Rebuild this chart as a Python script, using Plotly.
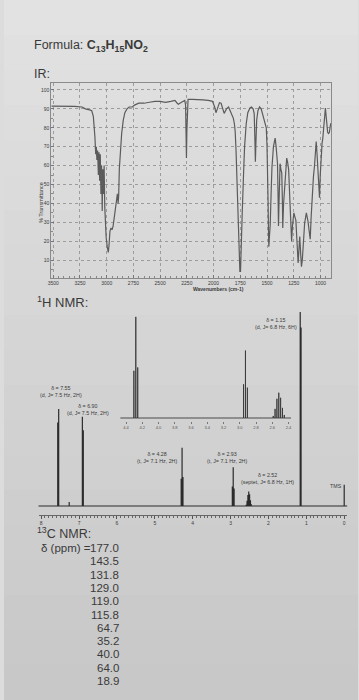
import plotly.graph_objects as go

W, H = 359, 700

# ---------------- IR data ----------------
ir_wavenumber = [3518, 3400, 3300, 3230, 3200, 3160, 3140, 3125, 3118, 3110, 3103, 3097, 3092, 3085,
                 3078, 3072, 3066, 3060, 3054, 3048, 3042, 3036, 3030, 3024, 3018, 3012, 3005, 2995,
                 2985, 2978, 2970, 2960, 2950, 2940, 2930, 2920, 2910, 2900, 2893, 2888, 2882, 2872,
                 2860, 2845, 2830, 2810, 2790, 2760, 2740, 2700, 2650, 2600, 2550, 2500, 2450, 2400,
                 2362, 2340, 2330, 2300, 2285, 2270, 2262, 2257, 2254, 2250, 2245, 2239, 2200, 2150,
                 2100, 2050, 2010, 1990, 1978, 1965, 1945, 1930, 1915, 1901, 1880, 1860, 1845, 1830,
                 1815, 1805, 1798, 1790, 1780, 1770, 1760, 1754, 1748, 1740, 1732, 1720, 1710, 1695,
                 1680, 1660, 1645, 1630, 1620, 1614, 1609, 1604, 1597, 1585, 1570, 1555, 1540, 1520,
                 1507, 1500, 1495, 1490, 1485, 1483, 1478, 1470, 1462, 1454, 1440, 1430, 1424, 1415,
                 1402, 1397, 1393, 1388, 1382, 1378, 1370, 1362, 1356, 1353, 1345, 1330, 1316, 1308,
                 1298, 1285, 1275, 1270, 1262, 1249, 1240, 1230, 1220, 1209, 1203, 1194, 1186, 1178,
                 1170, 1163, 1155, 1148, 1132, 1124, 1117, 1105, 1096, 1088, 1077, 1066, 1056, 1048,
                 1040, 1032, 1025, 1017, 1009, 1002, 994, 985, 979, 970, 960, 954, 945, 933, 925, 917,
                 908, 902]
ir_transmittance = [91.5, 91.5, 91.3, 91, 90, 89.5, 89, 86, 82, 75, 66, 70, 63, 68,
                    55, 67, 52, 66, 45, 60, 36, 58, 45, 60, 38, 30, 22, 17,
                    14, 18, 25, 27, 26, 28, 33, 38, 42, 45, 40, 44, 58, 68,
                    77, 84, 88, 90, 91, 91, 92, 93, 93, 93.5, 94, 94, 93.5, 94,
                    94.5, 93, 92.5, 93.5, 94, 94.5, 92, 75, 64, 78, 94, 95, 95, 95,
                    94.8, 94.5, 94, 91, 88, 90, 93.3, 93, 90, 87.6, 90, 91, 89, 87,
                    85, 82, 78, 68, 52, 30, 10, 4, 4, 15, 35, 55, 70, 82,
                    88, 90.5, 91, 90, 87.5, 75, 62, 72, 84, 89, 91, 90, 87, 84,
                    80, 70, 60, 40, 20, 17, 22, 29, 45, 59, 70, 74, 74.5, 70,
                    61, 45, 28, 40, 55, 61, 58, 56, 40, 27, 40, 55, 64, 62,
                    58, 40, 25, 20, 28, 35, 33, 31, 20, 8.5, 14, 22.5, 14, 6.5,
                    10, 17, 24, 29.6, 35, 33, 30.6, 25, 21, 32, 47, 54, 59.8, 68,
                    72.7, 66, 60, 50, 43, 55, 67, 72, 74, 82, 89, 90.5, 85, 77.6, 77, 77.5,
                    81, 82.5]
ir_xticks = [3500, 3250, 3000, 2750, 2500, 2250, 2000, 1750, 1500, 1250, 1000]
ir_yticks = [10, 20, 30, 40, 50, 60, 70, 80, 90, 100]

# ---------------- 1H NMR data ----------------
spectrometer_mhz = 300
nmr_centers = [7.55, 7.26, 6.90, 4.28, 2.93, 2.52, 1.15, 0.00]
nmr_j_hz = [7.5, 0.0, 7.5, 7.1, 7.1, 6.8, 6.8, 0.0]
nmr_line_heights = [[43, 50], [2], [46, 39], [14, 30, 15], [10, 20, 9],
                    [0.6, 2.7, 5.7, 7.5, 6, 3, 0.9], [100, 92], [11]]
nmr_ticks = [8, 7, 6, 5, 4, 3, 2, 1, 0]
inset_ticks = [4.4, 4.2, 4.0, 3.8, 3.6, 3.4, 3.2, 3.0, 2.8, 2.6, 2.4]

peak_shift_text = ["δ = 7.55", "δ = 6.90", "δ = 4.28", "δ = 2.93", "δ = 2.52", "δ = 1.15"]
peak_detail_text = ["(d, J= 7.5 Hz, 2H)", "(d, J= 7.5 Hz, 2H)", "(t, J= 7.1 Hz, 2H)",
                    "(t, J= 7.1 Hz, 2H)", "(septet, J= 6.8 Hz, 1H)", "(d, J= 6.8 Hz, 6H)"]

# ---------------- 13C NMR data ----------------
c13_shifts = ["177.0", "143.5", "131.8", "129.0", "119.0", "115.8", "64.7", "35.2", "40.0", "64.0", "18.9"]

# ---------------- helpers (layout only) ----------------
def fx(px):
    return px / W

def fy(py):
    return 1 - py / H

FONT = "Liberation Sans, Arial, sans-serif"
INK = "#3a3a3a"

# build stick spectrum from the multiplet table
lines = []
for c, j, hs in zip(nmr_centers, nmr_j_hz, nmr_line_heights):
    n = len(hs)
    for k, h in enumerate(hs):
        off = ((n - 1) / 2 - k) * j / spectrometer_mhz
        lines.append((c + off, h))
lines.sort(key=lambda t: -t[0])
sx, sy = [8.2], [0]
for p, h in lines:
    sx += [p, p, p]
    sy += [0, h, 0]
sx.append(-0.2)
sy.append(0)

fig = go.Figure()

fig.add_trace(go.Scatter(x=ir_wavenumber, y=ir_transmittance, mode="lines",
                         line=dict(color="#5b5b5b", width=1.2), xaxis="x", yaxis="y",
                         hoverinfo="skip", showlegend=False))
fig.add_trace(go.Scatter(x=sx, y=sy, mode="lines", line=dict(color="#2b2b2b", width=1.2),
                         xaxis="x2", yaxis="y2", hoverinfo="skip", showlegend=False))
fig.add_trace(go.Scatter(x=sx, y=sy, mode="lines", line=dict(color="#3a3a3a", width=0.9),
                         xaxis="x3", yaxis="y3", hoverinfo="skip", showlegend=False))

# background paper shading (photo look)
shapes = []
nb = 20
for i in range(nb):
    t = i / (nb - 1)
    v = int(226 - 26 * t)
    shapes.append(dict(type="rect", xref="paper", yref="paper", x0=0, x1=1,
                       y0=1 - (i + 1) / nb, y1=1 - i / nb, layer="below",
                       line=dict(width=0), fillcolor=f"rgb({v},{v},{v})"))

ann = []
def text(x, y, s, size, anchor="left", color=INK, valign="middle"):
    ann.append(dict(x=fx(x), y=fy(y), xref="paper", yref="paper", text=s, showarrow=False,
                    xanchor=anchor, yanchor=valign, font=dict(family=FONT, size=size, color=color),
                    align="center" if anchor == "center" else anchor))

text(28, 46, "Formula: <b>C<sub>13</sub>H<sub>15</sub>NO<sub>2</sub></b>", 12.5)
text(28, 74, "IR:", 12.5)
text(190, 289, "<b>Wavenumbers (cm-1)</b>", 5)
ann.append(dict(x=fx(33), y=fy(180), xref="paper", yref="paper", text="% Transmittance",
                showarrow=False, textangle=-90, font=dict(family=FONT, size=5.5, color=INK)))
text(31, 302, "<sup>1</sup>H NMR:", 13)

label_pos = [(58, 391.5), (85, 409), (155, 457.5), (226, 457.5), (267, 478), (276, 323.5)]
for (x, y), a, b in zip(label_pos, peak_shift_text, peak_detail_text):
    text(x, y, a + "<br>" + b, 5.3, anchor="center")
text(337, 485.5, "TMS", 5.3, anchor="center")

text(31, 533, "<sup>13</sup>C NMR:", 12.5)
text(36, 548, "δ (ppm) =", 11.5)
for i, v in enumerate(c13_shifts):
    text(118.5, 548 + i * 13.3, v, 11.5, anchor="right")

grid = dict(showgrid=True, gridcolor="#9c9c9c", gridwidth=0.7, griddash="dot")

fig.update_layout(
    width=W, height=H, margin=dict(l=0, r=0, t=0, b=0),
    paper_bgcolor="#dcdcdc", plot_bgcolor="rgba(0,0,0,0)",
    shapes=shapes, annotations=ann, showlegend=False,
    xaxis=dict(domain=[fx(48), fx(332)], range=[3518, 898], anchor="y",
               tickvals=ir_xticks, ticktext=[str(v) for v in ir_xticks],
               tickfont=dict(family=FONT, size=5, color=INK), ticks="inside", ticklen=3,
               tickcolor="#777", minor=dict(ticks="inside", ticklen=2, dtick=50, tickcolor="#888"),
               showline=True, mirror=True, linecolor="#8a8a8a", linewidth=1, zeroline=False, **grid),
    yaxis=dict(domain=[fy(278), fy(83)], range=[0.5, 103.7], anchor="x",
               tickvals=ir_yticks, tickfont=dict(family=FONT, size=5, color=INK),
               ticks="inside", ticklen=3, tickcolor="#777",
               minor=dict(ticks="inside", ticklen=2, dtick=5, tickcolor="#888"),
               showline=True, mirror=True, linecolor="#8a8a8a", linewidth=1, zeroline=False, **grid),
    xaxis2=dict(domain=[fx(35), fx(348)], range=[8.07, -0.078], anchor="y2",
                tickvals=nmr_ticks, ticktext=[str(v) for v in nmr_ticks],
                tickfont=dict(family=FONT, size=5, color=INK), ticks="outside", ticklen=3,
                tickcolor="#555", minor=dict(ticks="outside", ticklen=2, dtick=0.1, tickcolor="#666"),
                showline=True, linecolor="#666", linewidth=0.8, showgrid=False, zeroline=False),
    yaxis2=dict(domain=[fy(515), fy(305)], range=[-4.64, 103.6], anchor="x2", visible=False),
    xaxis3=dict(domain=[fx(118), fx(291)], range=[4.47, 2.37], anchor="y3",
                tickvals=inset_ticks, ticktext=[f"{v:.1f}" for v in inset_ticks],
                tickfont=dict(family=FONT, size=4, color="#555"), ticks="outside", ticklen=2,
                tickcolor="#777", showline=False, showgrid=False, zeroline=False),
    yaxis3=dict(domain=[fy(421), fy(312)], range=[-0.89, 31.45], anchor="x3", visible=False),
)

fig.write_html("out.html")
